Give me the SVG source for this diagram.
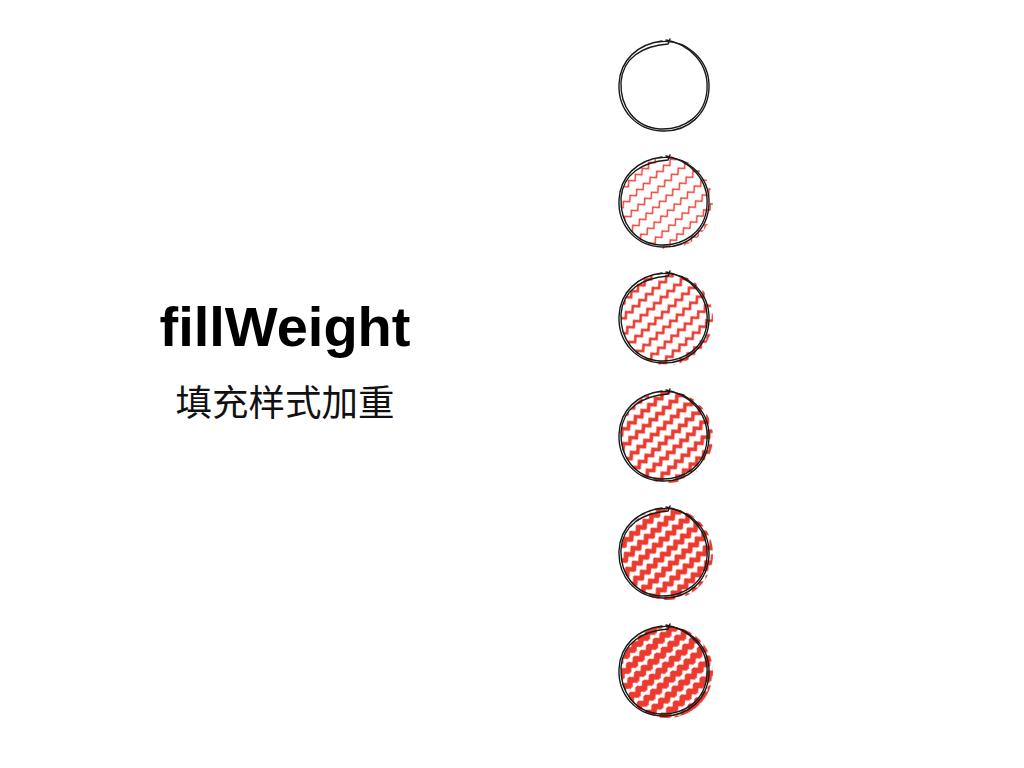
<svg xmlns="http://www.w3.org/2000/svg" width="1024" height="768" viewBox="0 0 1024 768">
<style>
.title{font-family:"Liberation Sans",Arial,sans-serif;font-weight:bold;font-size:56px;fill:#000}
.sub{font-family:"Noto Sans CJK SC","Noto Sans",sans-serif;font-size:36.5px;fill:#111}
.outline{fill:none;stroke:#1a1a1a;stroke-width:1.4;stroke-linecap:round}
.zz{fill:none;stroke:#ec3a2f;stroke-linejoin:miter}
</style>
<defs>
<pattern id="p1" patternUnits="userSpaceOnUse" width="9" height="12" patternTransform="rotate(-42)"><path class="zz" stroke-width="1.5" d="M-1,8.25 L0,7.25 L4.5,2.75 L9,7.25 L10,8.25"/></pattern>
<pattern id="p2" patternUnits="userSpaceOnUse" width="9" height="12" patternTransform="rotate(-42)"><path class="zz" stroke-width="2.5" d="M-1,8.25 L0,7.25 L4.5,2.75 L9,7.25 L10,8.25"/></pattern>
<pattern id="p3" patternUnits="userSpaceOnUse" width="9" height="12" patternTransform="rotate(-42)"><path class="zz" stroke-width="3.6" d="M-1,8.25 L0,7.25 L4.5,2.75 L9,7.25 L10,8.25"/></pattern>
<pattern id="p4" patternUnits="userSpaceOnUse" width="9" height="12" patternTransform="rotate(-42)"><path class="zz" stroke-width="4.7" d="M-1,8.25 L0,7.25 L4.5,2.75 L9,7.25 L10,8.25"/></pattern>
<pattern id="p5" patternUnits="userSpaceOnUse" width="9" height="12" patternTransform="rotate(-42)"><path class="zz" stroke-width="5.8" d="M-1,8.25 L0,7.25 L4.5,2.75 L9,7.25 L10,8.25"/></pattern>
<clipPath id="c2"><circle cx="667" cy="203" r="46"/></clipPath>
<clipPath id="c3"><circle cx="667" cy="319" r="46"/></clipPath>
<clipPath id="c4"><circle cx="667" cy="437" r="46"/></clipPath>
<clipPath id="c5"><circle cx="667" cy="554" r="46"/></clipPath>
<clipPath id="c6"><circle cx="667" cy="672" r="46"/></clipPath>
<g id="rough">
<path class="outline" d="M658,42 C684,38 710,58 709,88 C708,114 688,132 662,131 C636,130 618,110 619,84 C620,60 638,44 662,41"/>
<path class="outline" d="M666,40 C690,44 709,64 707,90 C705,116 684,130 660,129 C634,127 620,106 621,82 C623,58 642,46 668,44 L670,39"/>
</g>
</defs>
<rect width="1024" height="768" fill="#fff"/>
<g id="label">
<text class="title" x="285" y="346" text-anchor="middle">fillWeight</text>
<text class="sub" x="285" y="416" text-anchor="middle">填充样式加重</text>
</g>
<g id="circle1">
<use href="#rough"/>
</g>
<g id="circle2">
<rect x="610" y="150" width="110" height="110" fill="url(#p1)" clip-path="url(#c2)"/>
<use href="#rough" transform="translate(0,116)"/>
</g>
<g id="circle3">
<rect x="610" y="266" width="110" height="110" fill="url(#p2)" clip-path="url(#c3)"/>
<use href="#rough" transform="translate(0,232)"/>
</g>
<g id="circle4">
<rect x="610" y="384" width="110" height="110" fill="url(#p3)" clip-path="url(#c4)"/>
<use href="#rough" transform="translate(0,350)"/>
</g>
<g id="circle5">
<rect x="610" y="501" width="110" height="110" fill="url(#p4)" clip-path="url(#c5)"/>
<use href="#rough" transform="translate(0,467)"/>
</g>
<g id="circle6">
<rect x="610" y="619" width="110" height="110" fill="url(#p5)" clip-path="url(#c6)"/>
<use href="#rough" transform="translate(0,585)"/>
</g>
</svg>
